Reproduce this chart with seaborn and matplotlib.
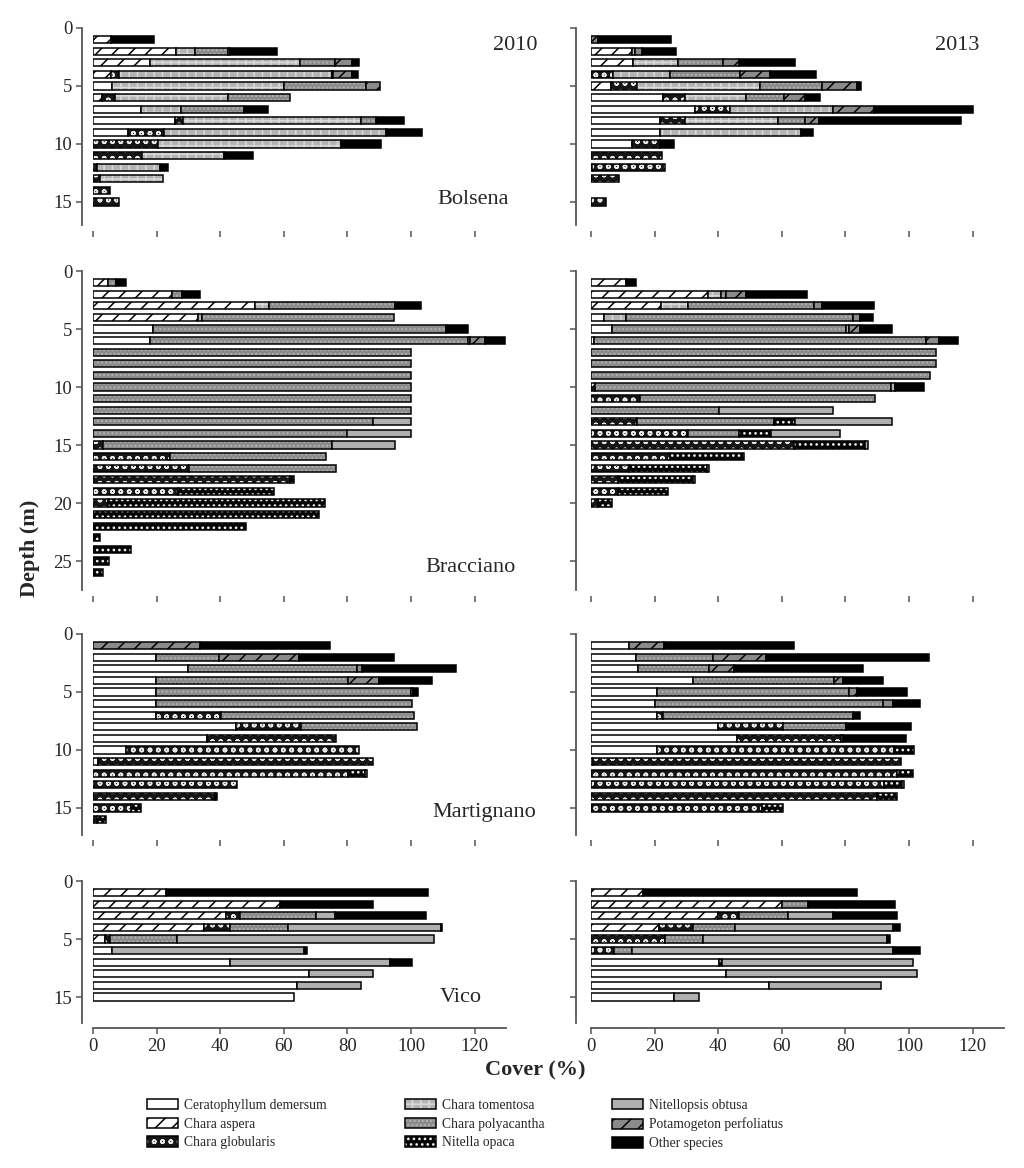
import pandas as pd
import matplotlib
matplotlib.use("Agg")
import matplotlib.pyplot as plt
from matplotlib.patches import Patch
import seaborn as sns

species = ["Ceratophyllum demersum", "Chara aspera", "Chara globularis",
           "Chara tomentosa", "Chara polyacantha", "Nitella opaca",
           "Nitellopsis obtusa", "Potamogeton perfoliatus", "Other species"]

# cover (%) per depth, columns follow the species list
bolsena_depth_2010 = list(range(1, 16))
bolsena_2010 = [
    [0, 5.8, 0, 0, 0, 0, 0, 0, 13.3],
    [0, 26.0, 0, 6.0, 10.5, 0, 0, 0.7, 14.7],
    [0, 17.8, 0, 47.4, 10.8, 0, 0, 5.5, 2.1],
    [0, 5.8, 2.4, 66.8, 0.5, 0, 0, 5.8, 2.1],
    [6.0, 0, 0, 54.1, 25.9, 0, 0, 4.2, 0],
    [0, 2.9, 3.9, 35.8, 19.4, 0, 0, 0, 0],
    [15.0, 0, 0, 12.6, 19.9, 0, 0, 0, 7.5],
    [25.7, 0, 2.6, 56.1, 4.7, 0, 0, 0, 8.6],
    [11.0, 0, 11.2, 70.0, 0, 0, 0, 0, 11.2],
    [0, 0, 20.4, 57.7, 0, 0, 0, 0, 12.4],
    [0, 0, 15.4, 25.8, 0, 0, 0, 0, 9.1],
    [0, 0, 1.3, 19.9, 0, 0, 0, 0, 2.4],
    [0, 0, 2.1, 19.9, 0, 0, 0, 0, 0],
    [0, 0, 5.2, 0, 0, 0, 0, 0, 0],
    [0, 0, 8.2, 0, 0, 0, 0, 0, 0],
]

bolsena_depth_2013 = [1, 2, 3, 4, 5, 6, 7, 8, 9, 10, 11, 12, 13, 15]
bolsena_2013 = [
    [0, 0, 0, 0, 0, 0, 0, 2.3, 22.9],
    [0, 12.8, 0, 1.0, 0, 0, 0, 2.3, 10.5],
    [0, 13.1, 0, 14.2, 14.1, 0, 0, 5.0, 17.8],
    [0, 0, 6.8, 18.0, 22.0, 0, 0, 9.4, 14.5],
    [0, 6.3, 8.1, 38.8, 19.4, 0, 0, 11.0, 1.3],
    [22.6, 0, 7.0, 19.1, 12.1, 0, 0, 6.4, 4.9],
    [32.7, 0, 11.0, 32.3, 0, 0, 0, 13.1, 30.9],
    [21.7, 0, 7.9, 29.2, 8.6, 0, 0, 4.2, 44.9],
    [21.7, 0, 0, 44.4, 0, 0, 0, 0, 3.7],
    [13.0, 0, 8.7, 0, 0, 0, 0, 0, 4.5],
    [0, 0, 22.3, 0, 0, 0, 0, 0, 0],
    [0.4, 0, 22.9, 0, 0, 0, 0, 0, 0],
    [0, 0, 8.9, 0, 0, 0, 0, 0, 0],
    [0, 0, 4.6, 0, 0, 0, 0, 0, 0],
]

bracciano_depth_2010 = list(range(1, 27))
bracciano_2010 = [
    [0, 4.8, 0, 0, 2.3, 0, 0, 0, 3.2],
    [0, 24.9, 0, 0, 3.1, 0, 0, 0, 5.6],
    [0, 50.8, 0, 4.5, 39.8, 0, 0, 0, 8.2],
    [0, 33.0, 0, 1.4, 60.1, 0, 0, 0, 0],
    [18.9, 0, 0, 0, 92.2, 0, 0, 0, 6.9],
    [17.8, 0, 0, 0, 100.1, 0, 0.5, 5.0, 6.3],
    [0, 0, 0, 0, 100, 0, 0, 0, 0],
    [0, 0, 0, 0, 100, 0, 0, 0, 0],
    [0, 0, 0, 0, 100, 0, 0, 0, 0],
    [0, 0, 0, 0, 100, 0, 0, 0, 0],
    [0, 0, 0, 0, 100, 0, 0, 0, 0],
    [0, 0, 0, 0, 100, 0, 0, 0, 0],
    [0, 0, 0, 0, 88.0, 0, 12.0, 0, 0],
    [0, 0, 0, 0, 80.0, 0, 20.0, 0, 0],
    [0, 0, 3.1, 0, 72.1, 0, 19.9, 0, 0],
    [0, 0, 24.2, 0, 49.0, 0, 0, 0, 0],
    [0, 0, 30.2, 0, 46.1, 0, 0, 0, 0],
    [0, 0, 62.0, 0, 0, 1.2, 0, 0, 0],
    [0, 0, 26.8, 0, 0, 30.1, 0, 0, 0],
    [0, 0, 4.8, 0, 0, 68.3, 0, 0, 0],
    [0, 0, 0, 0, 0, 71.1, 0, 0, 0],
    [0, 0, 0, 0, 0, 48.0, 0, 0, 0],
    [0, 0, 0, 0, 0, 2.1, 0, 0, 0],
    [0, 0, 0, 0, 0, 12.1, 0, 0, 0],
    [0, 0, 0, 0, 0, 5.0, 0, 0, 0],
    [0, 0, 0, 0, 0, 3.1, 0, 0, 0],
]

bracciano_depth_2013 = list(range(1, 21))
bracciano_2013 = [
    [0, 10.9, 0, 0, 0, 0, 0, 0, 3.1],
    [0, 36.9, 0, 4.0, 1.4, 0, 0, 6.3, 19.4],
    [0, 22.0, 0, 8.6, 39.4, 0, 0, 2.6, 16.3],
    [4.2, 0, 0, 6.7, 71.5, 0, 0, 2.3, 3.9],
    [6.5, 0, 0, 0, 73.8, 0, 0.7, 3.5, 10.2],
    [1.0, 0, 0, 0, 104.3, 0, 0, 4.2, 5.8],
    [0, 0, 0, 0, 108.6, 0, 0, 0, 0],
    [0, 0, 0, 0, 108.6, 0, 0, 0, 0],
    [0, 0, 0, 0, 106.5, 0, 0, 0, 0],
    [0, 0, 1.3, 0, 92.9, 0, 1.3, 0, 9.2],
    [0, 0, 15.4, 0, 73.8, 0, 0, 0, 0],
    [0, 0, 0, 0, 40.3, 0, 35.8, 0, 0],
    [0, 0, 14.4, 0, 43.0, 6.8, 30.4, 0, 0],
    [0, 0, 30.4, 0, 16.2, 10.1, 21.5, 0, 0],
    [0, 0, 63.7, 0, 0, 22.6, 0.7, 0, 0],
    [0, 0, 24.9, 0, 0, 23.1, 0, 0, 0],
    [0, 0, 11.8, 0, 0, 24.7, 0.7, 0, 0],
    [0, 0, 8.6, 0, 0, 23.6, 0.5, 0, 0],
    [0, 0, 8.6, 0, 0, 15.5, 0, 0, 0],
    [0, 0, 2.1, 0, 0, 4.6, 0, 0, 0],
]

martignano_depth_2010 = list(range(1, 17))
martignano_2010 = [
    [0, 0, 0, 0, 0, 0, 0, 33.6, 40.9],
    [19.9, 0, 0, 0, 19.7, 0, 0, 25.2, 29.7],
    [29.9, 0, 0, 0, 53.0, 0, 0, 1.8, 29.6],
    [19.9, 0, 0, 0, 60.3, 0, 0, 9.7, 16.6],
    [19.9, 0, 0, 0, 80.0, 0, 0.8, 0, 1.6],
    [19.9, 0, 0, 0, 80.3, 0, 0, 0, 0],
    [19.9, 0, 20.2, 0, 61.0, 0, 0, 0, 0],
    [44.9, 0, 20.4, 0, 36.7, 0, 0, 0, 0],
    [36.0, 0, 40.4, 0, 0, 0, 0, 0, 0],
    [10.3, 0, 73.4, 0, 0, 0, 0, 0, 0],
    [1.6, 0, 86.6, 0, 0, 0, 0, 0, 0],
    [0, 0, 80.2, 0, 0, 5.2, 0.7, 0, 0],
    [0, 0, 45.2, 0, 0, 0, 0, 0, 0],
    [0, 0, 38.3, 0, 0, 0.8, 0, 0, 0],
    [0, 0, 12.1, 0, 0, 2.9, 0, 0, 0],
    [0, 0, 1.4, 0, 0, 2.8, 0, 0, 0],
]

martignano_depth_2013 = list(range(1, 16))
martignano_2013 = [
    [12.0, 0, 0, 0, 0, 0, 0, 10.8, 40.9],
    [14.1, 0, 0, 0, 24.4, 0, 0, 16.5, 51.4],
    [14.9, 0, 0, 0, 22.2, 0, 0, 7.9, 40.6],
    [32.2, 0, 0, 0, 44.1, 0, 0, 2.8, 12.8],
    [20.9, 0, 0, 0, 60.3, 0, 0, 2.6, 15.5],
    [20.0, 0, 0, 0, 71.9, 0, 0, 3.1, 8.4],
    [20.9, 0, 1.6, 0, 59.8, 0, 0, 0, 2.4],
    [40.0, 0, 20.3, 0, 19.9, 0, 0, 0, 20.3],
    [45.9, 0, 32.7, 0, 0, 0, 0.5, 0, 20.0],
    [20.9, 0, 74.3, 0, 0, 6.3, 0, 0, 0],
    [0.6, 0, 96.9, 0, 0, 0, 0, 0, 0],
    [0, 0, 96.2, 0, 0, 5.1, 0, 0, 0],
    [0, 0, 92.2, 0, 0, 5.6, 0.7, 0, 0],
    [0, 0, 90.0, 0, 0, 6.3, 0, 0, 0],
    [0, 0, 53.9, 0, 0, 6.5, 0, 0, 0],
]

# Vico rows are evenly spaced; the axis is labelled 0, 5, 15
vico_rows = list(range(1, 11))
vico_ticks = [0, 5, 10]
vico_tick_labels = ["0", "5", "15"]
vico_2010 = [
    [0, 23.1, 0, 0, 0, 0, 0, 0, 82.3],
    [0, 58.7, 0, 0, 0, 0, 0, 0, 29.4],
    [0, 41.9, 4.2, 0, 24.1, 0, 5.8, 0, 28.6],
    [0, 34.8, 8.4, 0, 18.1, 0, 48.0, 0, 0.5],
    [0, 3.7, 1.6, 0, 21.0, 0, 81.0, 0, 0],
    [6.0, 0, 0, 0, 0, 0, 60.3, 0, 1.0],
    [43.2, 0, 0, 0, 0, 0, 50.1, 0, 7.0],
    [67.9, 0, 0, 0, 0, 0, 20.1, 0, 0],
    [64.2, 0, 0, 0, 0, 0, 20.0, 0, 0],
    [63.1, 0, 0, 0, 0, 0, 0, 0, 0],
]
vico_2013 = [
    [0, 16.2, 0, 0, 0, 0, 0, 0, 67.5],
    [0, 60.2, 0, 0, 7.9, 0, 0, 0, 27.6],
    [0, 39.8, 6.6, 0, 15.7, 0, 13.9, 0, 20.3],
    [0, 21.4, 10.8, 0, 13.1, 0, 49.6, 0, 2.3],
    [0, 0, 23.3, 0, 11.8, 0, 58.0, 0, 1.0],
    [0, 0, 7.3, 0, 5.7, 0, 82.0, 0, 8.4],
    [40.1, 0, 0, 0, 0, 1.0, 60.1, 0, 0],
    [42.4, 0, 0, 0, 0, 0, 60.1, 0, 0],
    [56.1, 0, 0, 0, 0, 0, 35.0, 0, 0],
    [26.1, 0, 0, 0, 0, 0, 8.0, 0, 0],
]

# face colour, hatch, hatch colour
styles = {
    "Ceratophyllum demersum": ("white", None, None),
    "Chara aspera": ("white", "//", "black"),
    "Chara globularis": ("#161616", "oo", "#e8e8e8"),
    "Chara tomentosa": ("#b4b4b4", "++", "#dadada"),
    "Chara polyacantha": ("#8a8a8a", "....", "#b0b0b0"),
    "Nitella opaca": ("#050505", "...", "#f0f0f0"),
    "Nitellopsis obtusa": ("#b0b0b0", None, None),
    "Potamogeton perfoliatus": ("#8a8a8a", "//", "black"),
    "Other species": ("black", None, None),
}

sns.set_style("ticks")
plt.rcParams["font.family"] = ["Liberation Serif", "DejaVu Serif"]
plt.rcParams["hatch.linewidth"] = 1.1

W, H = 1024, 1168
fig = plt.figure(figsize=(W / 100, H / 100), dpi=100)


def add_ax(x0, y0, x1, y1):
    return fig.add_axes([x0 / W, 1 - y1 / H, (x1 - x0) / W, (y1 - y0) / H])


def stacked(ax, depths, rows):
    df = pd.DataFrame(rows, columns=species, index=depths)
    left = df.cumsum(axis=1) - df
    for sp in species:
        face, hatch, hcol = styles[sp]
        keep = df[sp] > 0
        y = df.index[keep]
        w = df[sp][keep]
        l = left[sp][keep]
        ax.barh(y, w, left=l, height=0.62, color=face, hatch=hatch,
                edgecolor=hcol if hcol else "none", linewidth=0)
        ax.barh(y, w, left=l, height=0.62, fill=False,
                edgecolor="black", linewidth=1.1)


panels = [
    # name, top px, ylim bottom, yticks, tick labels, 2010 data, 2013 data
    ("Bolsena", 28, 17.0, [0, 5, 10, 15], None,
     (bolsena_depth_2010, bolsena_2010), (bolsena_depth_2013, bolsena_2013)),
    ("Bracciano", 271, 27.5, [0, 5, 10, 15, 20, 25], None,
     (bracciano_depth_2010, bracciano_2010), (bracciano_depth_2013, bracciano_2013)),
    ("Martignano", 634, 17.3, [0, 5, 10, 15], None,
     (martignano_depth_2010, martignano_2010), (martignano_depth_2013, martignano_2013)),
    ("Vico", 881, 12.2, vico_ticks, vico_tick_labels,
     (vico_rows, vico_2010), (vico_rows, vico_2013)),
]
name_pos = {"Bolsena": (473, 200), "Bracciano": (471, 567),
            "Martignano": (484, 812), "Vico": (461, 997)}

px_per_m = 11.6
for i, (name, top, ybot, yt, ytl, d10, d13) in enumerate(panels):
    bottom = top + ybot * px_per_m
    last = i == len(panels) - 1
    for col, (x0, data) in enumerate([(93, d10), (591, d13)]):
        ax = add_ax(x0, top, x0 + 130 * 3.18, bottom)
        stacked(ax, data[0], data[1])
        ax.set_xlim(0, 130)
        ax.set_ylim(ybot, 0)
        ax.set_yticks(yt)
        if col == 0:
            ax.set_yticklabels(ytl if ytl else [str(t) for t in yt])
        else:
            ax.set_yticklabels([])
        ax.set_xticks(range(0, 121, 20))
        sns.despine(ax=ax, offset={"left": 8 if col == 0 else 11, "bottom": 4})
        for s in ["left", "bottom"]:
            ax.spines[s].set_color("#555555")
            ax.spines[s].set_linewidth(1.3)
        ax.tick_params(direction="out", length=4, width=1.1, color="#555555",
                       labelsize=13.5, pad=3)
        if not last:
            ax.spines["bottom"].set_visible(False)
            ax.set_xticklabels([])
        ax.set_ylabel("")
        ax.set_xlabel("")
    fig.text(name_pos[name][0] / W, 1 - name_pos[name][1] / H, name,
             ha="center", va="center", fontsize=16)

fig.text(515 / W, 1 - 45 / H, "2010", ha="center", va="center", fontsize=16)
fig.text(957 / W, 1 - 45 / H, "2013", ha="center", va="center", fontsize=16)
fig.text(30 / W, 1 - 548 / H, "Depth (m)", rotation=90, ha="center",
         va="center", fontsize=16, fontweight="bold")
fig.text(535 / W, 1 - 1070 / H, "Cover (%)", ha="center", va="center",
         fontsize=16, fontweight="bold")

# legend: three columns placed by hand
col_x = [147, 405, 612]
for c in range(3):
    handles = []
    for sp in species[c * 3:(c + 1) * 3]:
        face, hatch, hcol = styles[sp]
        handles.append((Patch(facecolor=face, hatch=hatch,
                              edgecolor=hcol if hcol else "none", linewidth=0),
                        Patch(fill=False, edgecolor="black", linewidth=1.1)))
    fig.legend(handles, species[c * 3:(c + 1) * 3], loc="upper left",
               bbox_to_anchor=(col_x[c] / W, 1 - 1099 / H), frameon=False,
               fontsize=9.8, handlelength=2.3, handleheight=0.8,
               handletextpad=0.4, labelspacing=0.42, borderpad=0,
               borderaxespad=0)

fig.savefig("out.png", dpi=100)
